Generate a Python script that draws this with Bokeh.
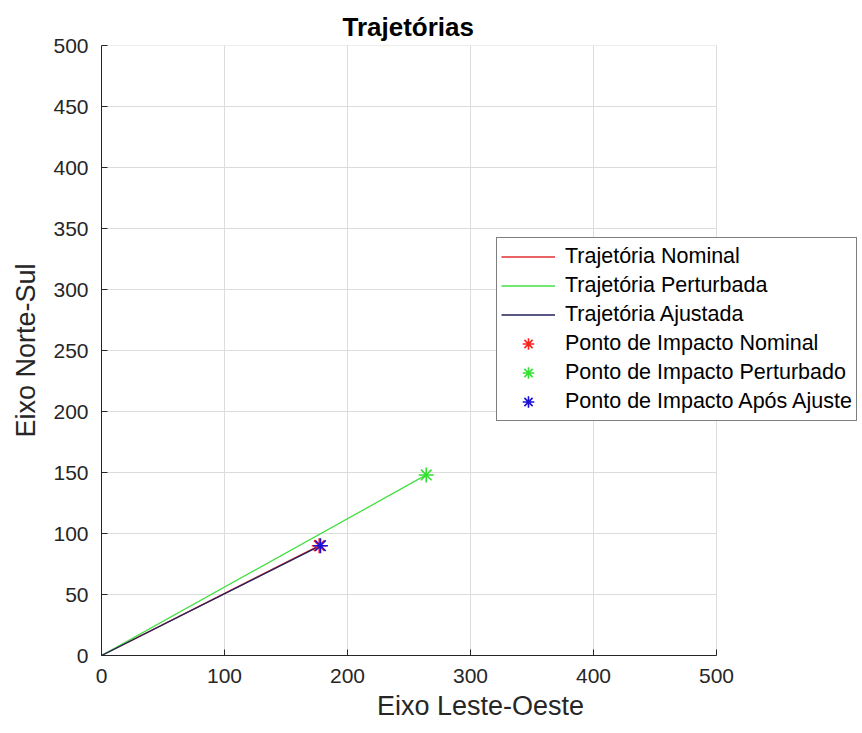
from bokeh.plotting import figure
from bokeh.models import Range1d, FixedTicker, Legend, LegendItem
from bokeh.embed import file_html
from bokeh.resources import INLINE

# Trajectory end points (east-west, north-south), all starting at the origin
nominal_x = [0, 177]
nominal_y = [0, 90]
perturbed_x = [0, 264]
perturbed_y = [0, 148]
adjusted_x = [0, 178]
adjusted_y = [0, 90]

# Impact points
impact_nominal = (177, 90)
impact_perturbed = (264, 148)
impact_adjusted = (178, 90)

x_ticks = [0, 100, 200, 300, 400, 500]
y_ticks = [0, 50, 100, 150, 200, 250, 300, 350, 400, 450, 500]
axis_max = 500

FONT = "Liberation Sans"
INK = "#262626"
GRID = "#dcdcdc"

# The plotting frame is widened to the right so the legend can hang past
# the 0..500 data box without being clipped; axis and grid stop at 500.
data_px = 615
frame_w = 758
p = figure(
    frame_width=frame_w, frame_height=610,
    min_border_left=101, min_border_right=862 - 101 - frame_w,
    min_border_top=45, min_border_bottom=78,
    x_range=Range1d(0, axis_max * frame_w / data_px),
    y_range=Range1d(0, axis_max),
    output_backend="svg", toolbar_location=None,
    title="Trajetórias",
)
p.background_fill_color = "white"
p.border_fill_color = "white"
p.outline_line_color = None

p.title.align = "left"
p.title.offset = 241
p.title.text_font = FONT
p.title.text_font_size = "26px"
p.title.text_font_style = "bold"
p.title.text_color = "black"
p.title.standoff = 7

for ax in (p.xaxis[0], p.yaxis[0]):
    ax.axis_line_color = INK
    ax.axis_line_width = 1
    ax.major_tick_in = 6
    ax.major_tick_out = 0
    ax.major_tick_line_color = INK
    ax.minor_tick_line_color = None
    ax.major_label_text_font = FONT
    ax.major_label_text_font_size = "21px"
    ax.major_label_text_color = INK
    ax.axis_label_text_font = FONT
    ax.axis_label_text_font_size = "27px"
    ax.axis_label_text_font_style = "normal"
    ax.axis_label_text_color = INK

p.xaxis.ticker = FixedTicker(ticks=x_ticks)
p.yaxis.ticker = FixedTicker(ticks=y_ticks)
p.xaxis.bounds = (0, axis_max)
p.xaxis.axis_label = "Eixo Leste-Oeste"
p.yaxis.axis_label = "Eixo Norte-Sul"
p.xaxis.major_label_standoff = 13
p.yaxis.major_label_standoff = 13
p.xaxis.axis_label_standoff = 5
p.yaxis.axis_label_standoff = 9

# vertical grid from the ticker; horizontal grid drawn only across 0..500
p.xgrid.grid_line_color = GRID
p.xgrid.ticker = FixedTicker(ticks=x_ticks)
p.ygrid.grid_line_color = None
p.segment(x0=[0] * len(y_ticks), y0=y_ticks,
          x1=[axis_max] * len(y_ticks), y1=y_ticks,
          line_color=GRID, line_width=1)

r_nom = p.line(nominal_x, nominal_y, line_color="#e03030", line_width=1.3)
r_per = p.line(perturbed_x, perturbed_y, line_color="#44e044", line_width=1.3)
r_adj = p.line(adjusted_x, adjusted_y, line_color="#20205a", line_width=1.3)

m_nom = p.scatter([impact_nominal[0]], [impact_nominal[1]], marker="asterisk",
                  size=15, line_color="#ff2020", line_width=1.6)
m_per = p.scatter([impact_perturbed[0]], [impact_perturbed[1]], marker="asterisk",
                  size=15, line_color="#33e033", line_width=1.6)
m_adj = p.scatter([impact_adjusted[0]], [impact_adjusted[1]], marker="asterisk",
                  size=15, line_color="#1a10d8", line_width=1.6)

legend = Legend(
    items=[
        LegendItem(label="Trajetória Nominal", renderers=[r_nom]),
        LegendItem(label="Trajetória Perturbada", renderers=[r_per]),
        LegendItem(label="Trajetória Ajustada", renderers=[r_adj]),
        LegendItem(label="Ponto de Impacto Nominal", renderers=[m_nom]),
        LegendItem(label="Ponto de Impacto Perturbado", renderers=[m_per]),
        LegendItem(label="Ponto de Impacto Após Ajuste", renderers=[m_adj]),
    ],
    location=(395, 234),
    orientation="vertical",
    label_text_font=FONT,
    label_text_font_size="21.5px",
    label_text_color="black",
    glyph_width=54,
    glyph_height=29,
    label_height=29,
    label_standoff=10,
    spacing=0,
    padding=4,
    margin=0,
    border_line_color="black",
    border_line_width=1,
    background_fill_color="white",
    background_fill_alpha=1.0,
)
p.add_layout(legend, "center")

open("out.html", "w").write(file_html(p, INLINE))
